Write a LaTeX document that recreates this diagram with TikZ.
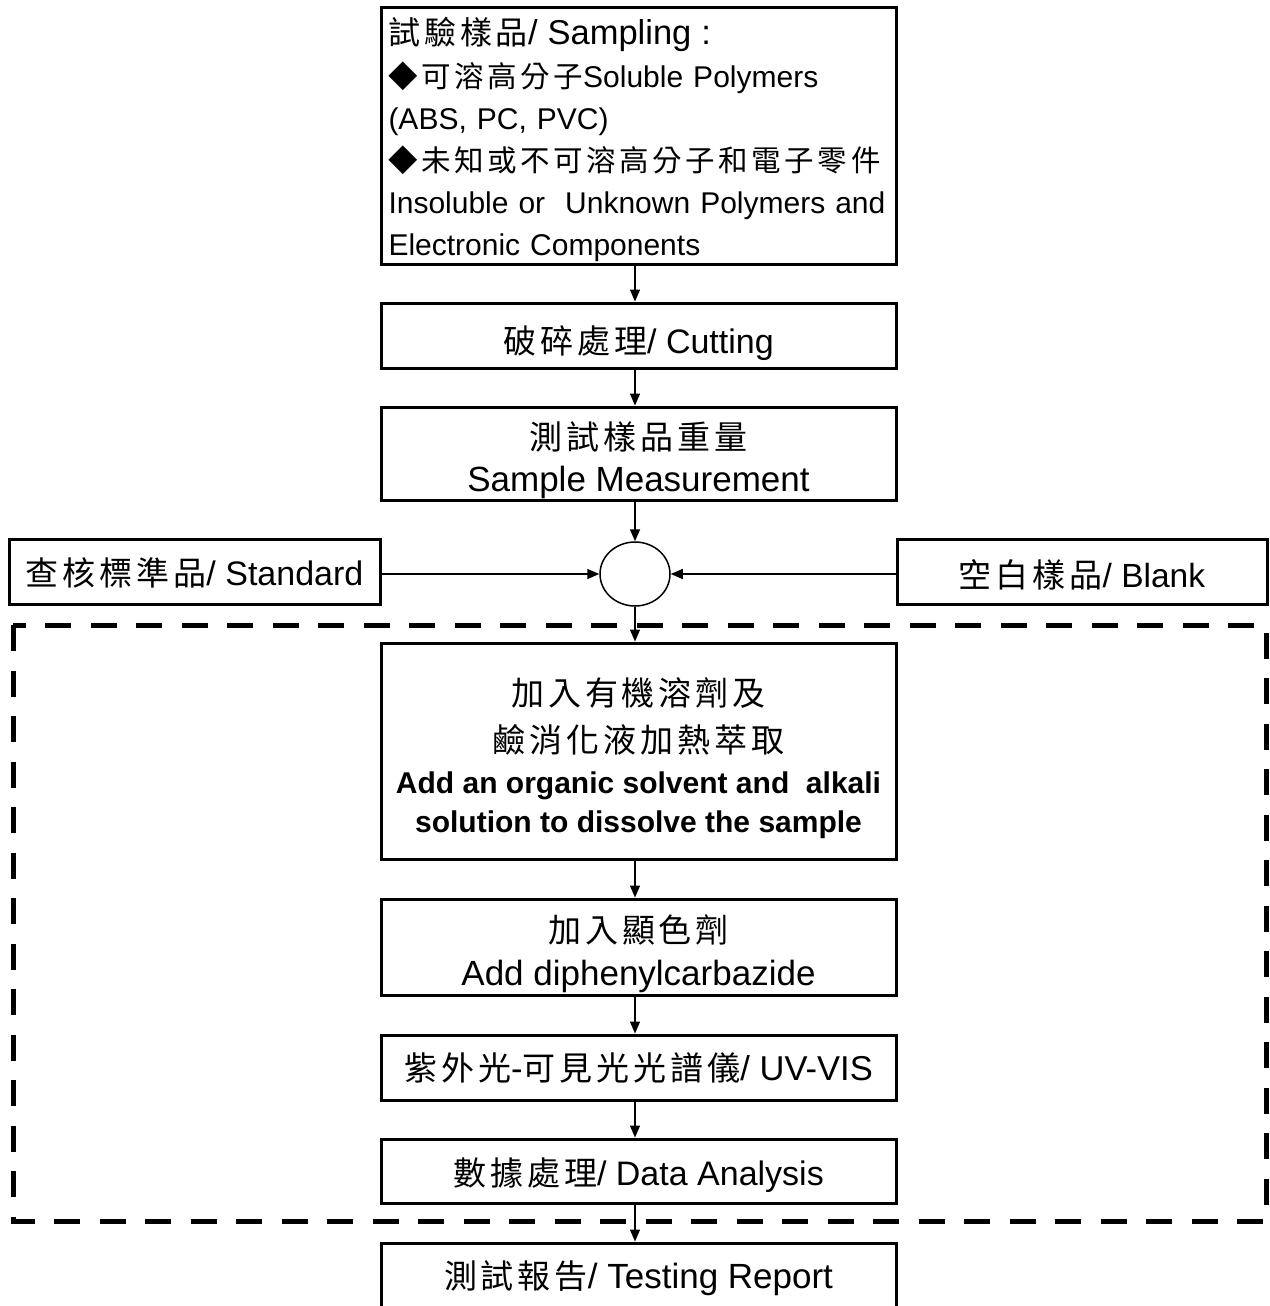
\documentclass[tikz,border=0pt]{standalone}
\usepackage{fontspec}
\setmainfont{Liberation Sans}
\newfontfamily\cjkfont[LetterSpace=12]{Noto Sans CJK TC}
\usetikzlibrary{arrows.meta,shapes.geometric}
\newcommand\zh[2][33]{{\fontsize{#1}{40}\cjkfont #2}}
\newcommand\tp[1]{\rule{0pt}{#1pt}}
\newcommand\bt[1]{\rule[-#1pt]{0pt}{#1pt}}
\tikzset{
  box/.style={draw, line width=3pt, minimum width=515pt, inner sep=0pt, align=center},
  sidebox/.style={draw, line width=3pt, minimum width=371pt, minimum height=65pt, inner sep=0pt, align=center},
  flow/.style={line width=1.5pt, -{Triangle[length=12pt,width=10pt]}},
  zone/.style={line width=5pt, dash pattern=on 26pt off 19.5pt},
}
\begin{document}
\begin{tikzpicture}[x=1pt,y=-1pt]
\useasboundingbox (0,0) rectangle (1269,1306);
\clip (0,0) rectangle (1269,1306);
\fill[white] (0,0) rectangle (1269,1306);

% top sample box
\node[box, minimum height=256pt, text width=500pt, align=left,
      font=\fontsize{30}{42.2}\selectfont] (samp) at (638.5,136) {%
\tp{37}\zh[32]{試驗樣品}{\fontsize{34.5}{42.2}\selectfont/ Sampling :}\\
\zh[29.5]{◆可溶高分子}Soluble Polymers\\
(ABS, PC, PVC)\\
\zh[29.5]{◆未知或不可溶高分子和電子零件}\\
Insoluble or~ Unknown Polymers and\\
Electronic Components\bt{8}};

\node[box, minimum height=65pt, font=\fontsize{34}{44}\selectfont] (cut) at (638.5,335.5) {\tp{47}\zh{破碎處理}/ Cutting\bt{12}};

\node[box, minimum height=93pt, font=\fontsize{35}{42}\selectfont] (meas) at (638.5,453.5) {\tp{42}\zh{測試樣品重量}\\Sample Measurement\bt{9}};

\node[draw, ellipse, line width=1.5pt, minimum width=70pt, minimum height=64pt, inner sep=0pt] (mix) at (635,574) {};

\node[sidebox, font=\fontsize{34}{44}\selectfont] (std) at (194.5,571.5) {\tp{40}\zh{查核標準品}/ Standard\bt{13}};
\node[sidebox, minimum width=370pt, font=\fontsize{33.5}{44}\selectfont] (blank) at (1082,571.5) {\tp{43}\zh{空白樣品}/ Blank\bt{12}};

% dashed zone
\draw[zone] (13,625) rectangle (1266,1221);

\node[box, minimum height=216pt, font=\fontsize{30}{39}\selectfont] (solv) at (638.5,751) {%
\tp{44.5}\zh{加入有機溶劑及}\\[8pt]
\zh{鹼消化液加熱萃取}\\[1.5pt]
{\bfseries Add an organic solvent and~ alkali}\\
{\bfseries solution to dissolve the sample}\bt{9}};

\node[box, minimum height=96pt, font=\fontsize{35}{42.5}\selectfont] (diph) at (638.5,947) {\tp{43.5}\zh{加入顯色劑}\\Add diphenylcarbazide\bt{10}};

\node[box, minimum height=65pt, font=\fontsize{34.5}{44}\selectfont] (uv) at (638.5,1067.5) {\tp{38}\zh{紫外光}-\zh{可見光光譜儀}/ UV-VIS\bt{13}};

\node[box, minimum height=64pt, font=\fontsize{34}{44}\selectfont] (data) at (638.5,1171) {\tp{40}\zh{數據處理}/ Data Analysis\bt{12}};

\node[box, minimum height=72pt, font=\fontsize{35}{44}\selectfont] (rep) at (638.5,1279) {\tp{34}\zh{測試報告}/ Testing Report\bt{16}};

% connectors
\draw[flow] (samp.south -| mix) -- (cut.north -| mix);
\draw[flow] (cut.south -| mix) -- (meas.north -| mix);
\draw[flow] (meas.south -| mix) -- (mix.north);
\draw[flow] (std.east |- mix) -- (mix.west);
\draw[flow] (blank.west |- mix) -- (mix.east);
\draw[flow] (mix.south) -- (solv.north -| mix);
\draw[flow] (solv.south -| mix) -- (diph.north -| mix);
\draw[flow] (diph.south -| mix) -- (uv.north -| mix);
\draw[flow] (uv.south -| mix) -- (data.north -| mix);
\draw[flow] (data.south -| mix) -- (rep.north -| mix);
\end{tikzpicture}
\end{document}
